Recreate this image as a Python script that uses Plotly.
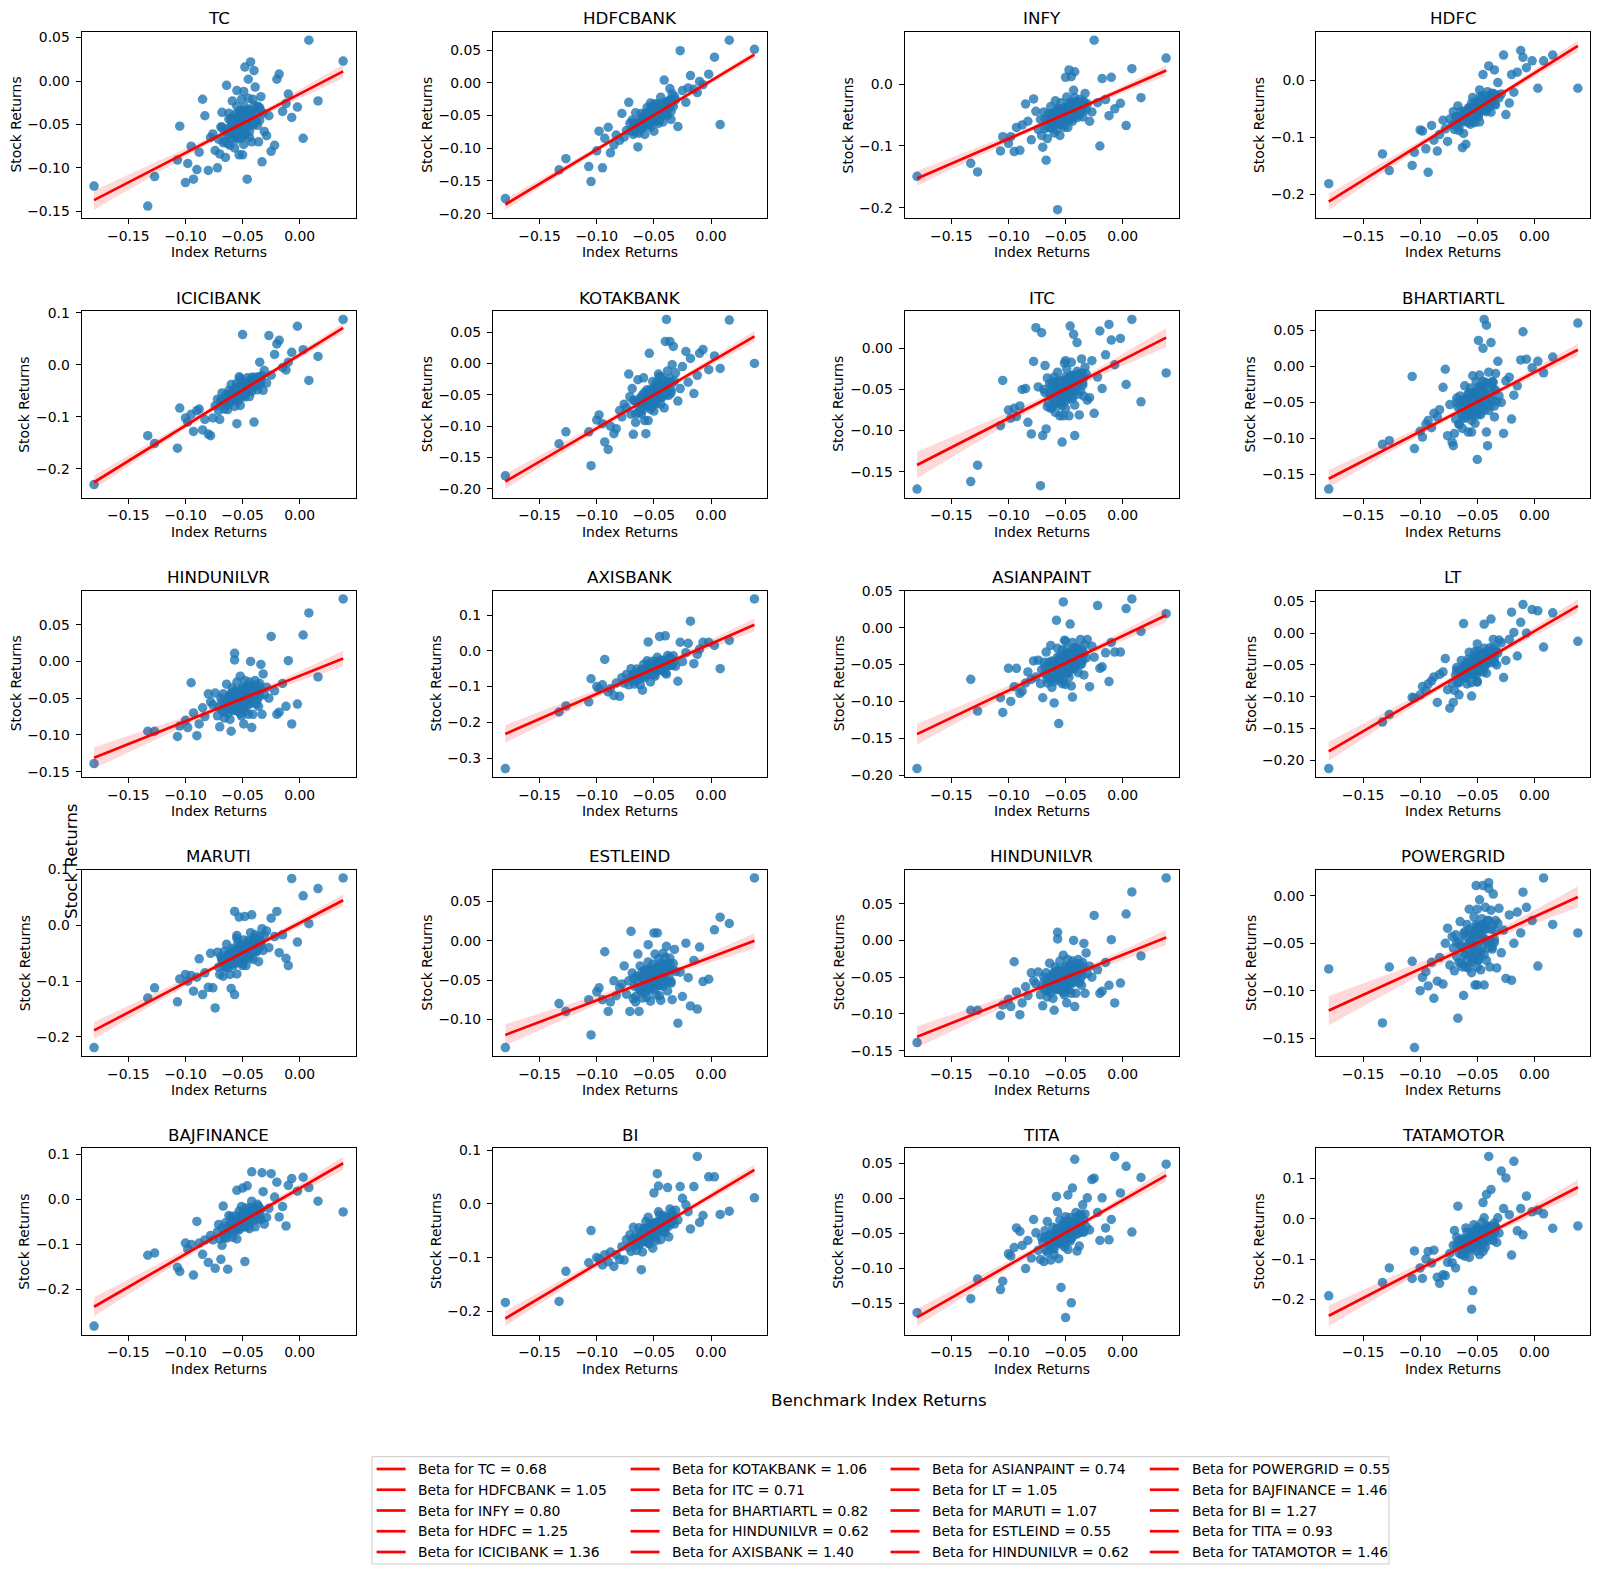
import numpy as np
import plotly.graph_objects as go

# ---------------- data ----------------
index_returns = [-0.180, -0.133, -0.127, -0.107, -0.105, -0.100, -0.098, -0.095, -0.093, -0.090, -0.088, -0.085, -0.083, -0.080, -0.078,
                 0.038, 0.016, 0.008, 0.003, -0.002, -0.007, -0.010, -0.012, -0.015, -0.018, -0.020, -0.022, -0.025, -0.027, -0.029,
                 -0.076, -0.074, -0.072, -0.071, -0.070, -0.069, -0.068, -0.067, -0.066, -0.065,
                 -0.064, -0.063, -0.062, -0.061, -0.060, -0.059, -0.058, -0.057, -0.057, -0.056,
                 -0.055, -0.055, -0.054, -0.053, -0.053, -0.052, -0.051, -0.051, -0.050, -0.050,
                 -0.049, -0.049, -0.048, -0.048, -0.047, -0.046, -0.046, -0.045, -0.044, -0.044,
                 -0.043, -0.042, -0.042, -0.041, -0.040, -0.039, -0.038, -0.037, -0.036, -0.035,
                 -0.034, -0.033, -0.032, -0.031, -0.060, -0.055, -0.050, -0.045, -0.040, -0.052,
                 -0.068, -0.066, -0.064, -0.063, -0.062, -0.061, -0.060, -0.059, -0.058, -0.057,
                 -0.056, -0.055, -0.054, -0.053, -0.053, -0.052, -0.051, -0.050, -0.050, -0.049,
                 -0.049, -0.048, -0.047, -0.047, -0.046, -0.045, -0.045, -0.044, -0.043, -0.042,
                 -0.041, -0.040, -0.039, -0.038, -0.037, -0.036, -0.035, -0.034, -0.055, -0.046]

tc = [-0.121, -0.144, -0.110, -0.091, -0.052, -0.117, -0.095, -0.075, -0.113, -0.102, -0.082, -0.021, -0.040, -0.103, -0.065,
      0.023, -0.023, 0.047, -0.066, -0.030, -0.042, -0.015, -0.026, -0.035, 0.008, 0.002, -0.074, -0.081, -0.040, -0.063,
      -0.061, -0.080, -0.100, -0.067, -0.084, -0.053, -0.036, -0.071, -0.058, -0.088,
      -0.005, -0.063, -0.037, -0.074, -0.052, -0.023, -0.062, -0.043, -0.077, -0.053,
      -0.029, -0.065, -0.044, -0.085, -0.035, -0.052, -0.021, -0.066, -0.036, -0.058,
      -0.012, -0.073, 0.016, -0.030, -0.061, -0.113, -0.037, 0.002, -0.048, -0.065,
      0.022, -0.038, -0.070, -0.021, 0.012, -0.007, -0.046, -0.029, -0.070, -0.031,
      -0.018, -0.093, -0.037, -0.058, -0.043, -0.011, -0.085, -0.020, -0.049, -0.034,
      -0.053, -0.069, -0.055, -0.072, -0.044, -0.061, -0.046, -0.066, -0.053, -0.039,
      -0.059, -0.047, -0.064, -0.040, -0.054, -0.044, -0.058, -0.034, -0.050, -0.039,
      -0.063, -0.044, -0.036, -0.056, -0.041, -0.050, -0.033, -0.058, -0.044, -0.035,
      -0.051, -0.028, -0.045, -0.034, -0.051, -0.030, -0.045, -0.035, -0.067, -0.035]

hdfcbank = [-0.177, -0.133, -0.116, -0.128, -0.151, -0.104, -0.074, -0.130, -0.085, -0.068, -0.107, -0.095, -0.080, -0.088, -0.047,
            0.051, 0.065, -0.064, 0.039, 0.013, -0.003, 0.002, -0.015, -0.010, 0.011, -0.008, -0.030, -0.012, 0.049, -0.067,
            -0.083, -0.073, -0.030, -0.062, -0.074, -0.057, -0.079, -0.065, -0.046, -0.069,
            -0.098, -0.077, -0.062, -0.047, -0.068, -0.054, -0.079, -0.047, -0.058, -0.038,
            -0.064, -0.047, -0.059, -0.031, -0.068, -0.049, -0.039, -0.059, -0.074, -0.044,
            -0.032, -0.051, -0.059, -0.039, -0.043, -0.062, -0.032, -0.051, -0.022, -0.046,
            -0.035, -0.060, -0.037, 0.004, -0.049, -0.038, -0.050, -0.028, -0.009, -0.056,
            -0.017, -0.036, -0.021, -0.026, -0.069, -0.045, -0.052, -0.057, -0.033, -0.036,
            -0.061, -0.076, -0.062, -0.068, -0.056, -0.069, -0.056, -0.061, -0.048, -0.062,
            -0.050, -0.055, -0.063, -0.044, -0.056, -0.048, -0.057, -0.042, -0.047, -0.058,
            -0.042, -0.049, -0.037, -0.052, -0.041, -0.047, -0.037, -0.052, -0.039, -0.046,
            -0.030, -0.038, -0.046, -0.030, -0.039, -0.026, -0.044, -0.031, -0.061, -0.040]

infy = [-0.149, -0.128, -0.142, -0.108, -0.085, -0.096, -0.085, -0.109, -0.070, -0.107, -0.066, -0.032, -0.060, -0.090, -0.024,
        0.042, -0.022, 0.025, -0.067, -0.031, -0.040, 0.011, -0.051, -0.025, 0.009, -0.100, -0.030, 0.071, -0.045, -0.060,
        -0.044, -0.073, -0.057, -0.083, -0.102, -0.045, -0.072, -0.123, -0.088, -0.048,
        -0.061, -0.036, -0.070, -0.047, -0.063, -0.027, -0.074, -0.203, -0.040, -0.064,
        -0.083, -0.045, -0.030, -0.053, -0.066, -0.039, -0.045, -0.070, 0.011, -0.057,
        -0.021, -0.052, -0.038, -0.070, 0.023, -0.030, -0.058, 0.012, -0.060, -0.034,
        -0.010, 0.020, -0.022, -0.047, -0.028, -0.035, -0.050, -0.025, -0.040, -0.053,
        -0.028, -0.015, -0.042, -0.032, -0.079, -0.041, -0.052, -0.029, -0.054, -0.047,
        -0.056, -0.069, -0.057, -0.071, -0.048, -0.061, -0.049, -0.065, -0.054, -0.042,
        -0.058, -0.049, -0.062, -0.042, -0.053, -0.045, -0.056, -0.037, -0.050, -0.040,
        -0.059, -0.044, -0.037, -0.054, -0.041, -0.048, -0.034, -0.054, -0.043, -0.036,
        -0.048, -0.029, -0.042, -0.034, -0.047, -0.029, -0.042, -0.033, -0.064, -0.036]

hdfc = [-0.181, -0.129, -0.158, -0.149, -0.126, -0.087, -0.089, -0.120, -0.161, -0.079, -0.105, -0.124, -0.095, -0.070, -0.085,
        -0.014, 0.044, 0.034, -0.014, 0.034, 0.022, 0.040, 0.052, 0.014, -0.021, 0.010, -0.040, -0.060, 0.044, -0.024,
        -0.107, -0.068, -0.078, -0.055, -0.086, -0.064, -0.079, -0.045, -0.088, -0.066,
        -0.054, -0.118, -0.093, -0.057, -0.112, -0.063, -0.074, -0.048, -0.054, -0.077,
        -0.040, -0.064, -0.030, -0.057, -0.046, -0.074, -0.046, -0.037, -0.061, -0.050,
        -0.064, -0.039, -0.017, -0.073, -0.028, -0.050, -0.033, 0.010, -0.053, -0.031,
        -0.044, -0.055, -0.033, -0.020, 0.025, -0.035, -0.056, -0.023, -0.036, 0.018,
        -0.043, -0.026, -0.004, -0.031, -0.054, -0.073, -0.050, -0.027, -0.046, -0.047,
        -0.064, -0.081, -0.065, -0.071, -0.058, -0.072, -0.058, -0.064, -0.049, -0.065,
        -0.052, -0.056, -0.065, -0.044, -0.057, -0.049, -0.059, -0.042, -0.048, -0.060,
        -0.042, -0.049, -0.036, -0.052, -0.040, -0.046, -0.035, -0.052, -0.038, -0.045,
        -0.028, -0.036, -0.045, -0.028, -0.037, -0.023, -0.042, -0.028, -0.064, -0.039]

icicibank = [-0.230, -0.136, -0.151, -0.160, -0.083, -0.102, -0.110, -0.095, -0.128, -0.088, -0.085, -0.125, -0.105, -0.133, -0.136,
             0.087, 0.016, -0.030, 0.029, 0.074, 0.024, 0.005, -0.010, -0.005, 0.047, 0.040, 0.020, -0.020, 0.056, -0.035,
             -0.102, -0.079, -0.066, -0.088, -0.105, -0.068, -0.054, -0.074, -0.085, -0.059,
             -0.064, -0.086, -0.049, -0.072, -0.038, -0.065, -0.052, -0.080, -0.053, -0.043,
             -0.067, -0.113, -0.070, -0.044, -0.023, -0.078, -0.032, -0.055, 0.058, -0.045,
             -0.058, -0.036, -0.049, -0.062, -0.038, -0.025, -0.051, -0.041, -0.061, -0.030,
             -0.043, -0.024, -0.051, -0.034, -0.110, -0.039, -0.025, -0.048, -0.030, 0.005,
             -0.036, -0.021, -0.049, -0.011, -0.064, -0.035, -0.060, -0.033, -0.042, -0.026,
             -0.067, -0.078, -0.065, -0.077, -0.056, -0.067, -0.055, -0.069, -0.058, -0.048,
             -0.062, -0.052, -0.064, -0.044, -0.055, -0.047, -0.056, -0.038, -0.050, -0.040,
             -0.058, -0.044, -0.036, -0.052, -0.040, -0.046, -0.032, -0.050, -0.039, -0.032,
             -0.043, -0.024, -0.036, -0.028, -0.040, -0.023, -0.033, -0.025, -0.066, -0.035]

kotakbank = [-0.179, -0.128, -0.109, -0.109, -0.163, -0.090, -0.082, -0.096, -0.125, -0.137, -0.100, -0.112, -0.104, -0.075, -0.085,
             0.000, 0.069, -0.008, 0.012, -0.010, 0.022, 0.016, -0.019, -0.048, 0.008, -0.030, 0.019, -0.005, -0.040, -0.060,
             -0.065, -0.071, -0.017, -0.053, -0.081, -0.040, -0.113, -0.059, -0.094, -0.060,
             -0.026, -0.078, -0.063, -0.081, -0.050, -0.023, -0.091, -0.112, -0.064, -0.042,
             -0.051, -0.068, 0.016, -0.057, -0.073, -0.044, -0.029, -0.061, -0.049, -0.076,
             -0.037, -0.054, -0.031, -0.064, -0.044, -0.017, -0.053, -0.036, -0.065, -0.044,
             -0.022, -0.053, -0.036, -0.071, 0.035, 0.070, -0.012, -0.051, 0.035, -0.043,
             -0.002, 0.027, -0.028, -0.015, -0.074, -0.091, -0.042, -0.021, -0.043, -0.070,
             -0.059, -0.080, -0.062, -0.070, -0.055, -0.072, -0.055, -0.063, -0.046, -0.065,
             -0.050, -0.056, -0.066, -0.042, -0.058, -0.048, -0.060, -0.041, -0.048, -0.062,
             -0.041, -0.050, -0.035, -0.054, -0.041, -0.048, -0.035, -0.055, -0.039, -0.048,
             -0.028, -0.038, -0.049, -0.029, -0.041, -0.024, -0.047, -0.031, -0.064, -0.039]

itc = [-0.171, -0.162, -0.142, -0.094, -0.039, -0.075, -0.085, -0.073, -0.083, -0.070, -0.050, -0.049, -0.090, -0.104, -0.016,
       -0.030, -0.065, 0.035, -0.044, 0.012, -0.020, 0.010, 0.029, -0.008, -0.049, 0.021, -0.035, -0.079, -0.015, -0.060,
       0.025, -0.047, -0.167, 0.019, -0.106, -0.050, -0.021, -0.098, -0.036, -0.067,
       -0.043, -0.053, -0.072, -0.041, -0.060, -0.078, -0.046, -0.029, -0.065, -0.052,
       -0.082, -0.039, -0.058, -0.114, -0.070, -0.047, -0.018, -0.057, -0.039, -0.073,
       -0.049, -0.025, -0.061, -0.041, -0.082, 0.027, -0.049, -0.017, -0.061, -0.033,
       0.017, -0.106, -0.069, -0.040, 0.007, -0.056, -0.081, -0.031, -0.013, -0.042,
       -0.058, -0.023, -0.031, -0.063, -0.035, -0.064, -0.015, -0.051, -0.032, -0.082,
       -0.054, -0.071, -0.056, -0.073, -0.045, -0.062, -0.047, -0.067, -0.054, -0.040,
       -0.060, -0.048, -0.065, -0.040, -0.055, -0.045, -0.058, -0.035, -0.051, -0.039,
       -0.063, -0.045, -0.036, -0.057, -0.042, -0.051, -0.033, -0.058, -0.045, -0.036,
       -0.051, -0.028, -0.045, -0.035, -0.052, -0.030, -0.045, -0.035, -0.068, -0.036]

bhartiartl = [-0.170, -0.108, -0.103, -0.014, -0.114, -0.090, -0.098, -0.080, -0.075, -0.085, -0.065, -0.070, -0.060, -0.029, -0.004,
              0.060, 0.013, -0.009, 0.007, -0.002, 0.010, 0.048, 0.009, -0.027, -0.040, -0.073, -0.015, -0.020, -0.093, -0.050,
              -0.096, -0.053, -0.105, -0.110, -0.093, -0.073, -0.044, -0.056, -0.080, -0.041,
              -0.065, -0.086, -0.048, -0.027, -0.070, -0.054, -0.091, -0.037, -0.061, -0.030,
              -0.075, -0.049, -0.013, -0.060, -0.038, -0.079, -0.050, -0.021, -0.129, -0.040,
              0.036, -0.029, -0.050, -0.012, -0.067, -0.031, -0.057, 0.025, 0.065, -0.040,
              -0.022, 0.057, -0.091, -0.110, -0.008, -0.045, 0.033, -0.021, -0.031, -0.070,
              -0.010, -0.049, 0.007, -0.041, -0.044, -0.091, -0.040, -0.021, -0.061, -0.051,
              -0.050, -0.080, -0.057, -0.068, -0.047, -0.072, -0.049, -0.061, -0.038, -0.065,
              -0.044, -0.053, -0.069, -0.036, -0.058, -0.045, -0.062, -0.035, -0.045, -0.067,
              -0.037, -0.050, -0.029, -0.057, -0.038, -0.049, -0.031, -0.061, -0.038, -0.051,
              -0.024, -0.039, -0.055, -0.028, -0.045, -0.022, -0.055, -0.033, -0.065, -0.036]

hindunilvr = [-0.139, -0.095, -0.095, -0.102, -0.088, -0.080, -0.090, -0.029, -0.070, -0.101, -0.085, -0.063, -0.075, -0.044, -0.055,
              0.085, -0.021, 0.066, 0.036, -0.058, -0.085, 0.001, -0.061, -0.030, -0.069, -0.072, -0.040, 0.034, -0.050, -0.035,
              -0.059, -0.043, -0.074, -0.062, -0.089, -0.050, -0.067, -0.044, -0.077, -0.057,
              -0.031, -0.065, -0.049, -0.079, -0.095, -0.036, -0.067, 0.002, 0.011, -0.040,
              -0.056, -0.028, -0.068, -0.042, -0.061, -0.020, -0.074, -0.048, -0.035, -0.064,
              -0.085, -0.042, -0.026, -0.053, -0.067, -0.036, -0.044, -0.072, -0.028, -0.057,
              0.000, -0.090, -0.036, -0.072, -0.038, -0.026, -0.058, -0.043, -0.061, -0.030,
              -0.004, -0.072, -0.017, -0.045, -0.043, -0.049, -0.064, -0.033, -0.048, -0.071,
              -0.055, -0.069, -0.057, -0.071, -0.047, -0.062, -0.048, -0.066, -0.054, -0.042,
              -0.060, -0.050, -0.064, -0.043, -0.055, -0.046, -0.058, -0.038, -0.052, -0.042,
              -0.063, -0.047, -0.039, -0.057, -0.044, -0.052, -0.036, -0.058, -0.046, -0.039,
              -0.052, -0.032, -0.047, -0.038, -0.052, -0.034, -0.047, -0.038, -0.066, -0.038]

axisbank = [-0.329, -0.171, -0.154, -0.143, -0.078, -0.100, -0.106, -0.095, -0.024, -0.115, -0.106, -0.125, -0.090, -0.127, -0.075,
            0.145, 0.029, -0.050, 0.015, 0.024, 0.024, 0.005, -0.010, -0.036, 0.083, 0.021, -0.005, -0.030, 0.024, -0.085,
            -0.090, -0.066, -0.095, -0.076, -0.050, -0.082, -0.066, -0.093, -0.072, -0.051,
            -0.080, -0.062, -0.095, -0.052, -0.110, -0.038, -0.075, -0.049, -0.067, -0.028,
            0.025, -0.054, -0.041, -0.066, -0.087, -0.046, -0.029, -0.055, -0.067, -0.038,
            -0.044, -0.071, -0.030, -0.057, -0.018, -0.049, -0.036, 0.040, -0.036, -0.026,
            -0.054, -0.039, -0.057, -0.028, 0.042, -0.065, -0.013, -0.039, -0.018, -0.025,
            -0.041, -0.014, -0.029, -0.043, -0.056, -0.036, -0.059, -0.042, -0.061, -0.041,
            -0.066, -0.084, -0.067, -0.074, -0.059, -0.075, -0.059, -0.065, -0.050, -0.067,
            -0.052, -0.057, -0.066, -0.044, -0.058, -0.049, -0.059, -0.041, -0.048, -0.061,
            -0.041, -0.049, -0.034, -0.053, -0.039, -0.046, -0.034, -0.052, -0.037, -0.044,
            -0.026, -0.035, -0.044, -0.026, -0.036, -0.020, -0.041, -0.025, -0.065, -0.038]

asianpaint = [-0.191, -0.070, -0.113, -0.095, -0.115, -0.055, -0.100, -0.080, -0.055, -0.089, -0.086, -0.075, -0.060, -0.070, -0.045,
              0.019, -0.005, 0.039, 0.026, -0.033, -0.033, -0.020, -0.073, -0.034, -0.053, -0.055, 0.030, -0.040, -0.025, -0.080,
              -0.067, -0.044, -0.076, -0.057, -0.095, -0.047, -0.063, -0.033, -0.075, -0.047,
              -0.067, -0.024, -0.081, -0.053, -0.102, -0.069, 0.010, -0.045, -0.028, -0.130,
              -0.071, -0.039, -0.046, -0.076, -0.030, 0.035, -0.017, -0.054, -0.038, -0.077,
              -0.041, -0.029, -0.062, -0.047, -0.067, -0.034, 0.005, -0.079, -0.020, -0.094,
              -0.028, -0.038, -0.056, -0.027, -0.045, -0.061, -0.032, -0.016, -0.049, -0.036,
              -0.064, -0.023, -0.041, -0.016, -0.073, -0.049, -0.018, -0.052, -0.031, -0.072,
              -0.054, -0.069, -0.055, -0.071, -0.045, -0.061, -0.046, -0.065, -0.052, -0.040,
              -0.059, -0.047, -0.063, -0.040, -0.053, -0.044, -0.056, -0.035, -0.050, -0.039,
              -0.061, -0.044, -0.036, -0.055, -0.041, -0.049, -0.033, -0.056, -0.043, -0.035,
              -0.049, -0.028, -0.043, -0.034, -0.050, -0.029, -0.044, -0.034, -0.065, -0.035]

lt = [-0.213, -0.140, -0.128, -0.101, -0.102, -0.097, -0.084, -0.090, -0.080, -0.075, -0.069, -0.109, -0.065, -0.061, -0.040,
      -0.013, 0.032, -0.022, 0.035, 0.037, 0.000, 0.045, 0.017, -0.036, 0.001, 0.033, -0.010, -0.043, -0.070, -0.015,
      -0.089, -0.118, -0.079, -0.109, -0.090, -0.066, -0.054, -0.078, -0.097, -0.058,
      -0.043, -0.066, 0.015, -0.050, -0.056, -0.080, -0.041, -0.065, -0.030, -0.060,
      -0.099, -0.078, -0.048, -0.037, -0.065, -0.051, -0.067, -0.041, -0.017, -0.077,
      -0.029, -0.054, -0.035, -0.043, -0.057, -0.033, -0.048, -0.061, 0.014, -0.024,
      -0.050, -0.040, -0.063, -0.029, -0.043, -0.023, 0.022, -0.033, -0.010, -0.039,
      -0.024, -0.050, -0.031, -0.011, -0.070, -0.049, -0.076, -0.032, -0.040, -0.029,
      -0.059, -0.078, -0.062, -0.068, -0.054, -0.070, -0.055, -0.062, -0.046, -0.063,
      -0.049, -0.055, -0.064, -0.042, -0.057, -0.048, -0.058, -0.040, -0.047, -0.060,
      -0.041, -0.049, -0.035, -0.053, -0.040, -0.047, -0.035, -0.054, -0.038, -0.046,
      -0.028, -0.038, -0.047, -0.029, -0.040, -0.024, -0.046, -0.030, -0.063, -0.039]

maruti = [-0.219, -0.130, -0.112, -0.137, -0.096, -0.088, -0.100, -0.090, -0.118, -0.093, -0.060, -0.124, -0.085, -0.111, -0.050,
          0.085, 0.066, 0.003, 0.053, -0.030, 0.084, -0.072, -0.059, -0.017, -0.049, 0.025, -0.020, 0.013, -0.040, -0.010,
          -0.112, -0.148, -0.048, -0.075, -0.088, -0.056, -0.063, -0.091, -0.047, -0.075,
          -0.034, -0.068, -0.052, -0.088, -0.113, -0.041, -0.072, 0.025, -0.124, -0.044,
          -0.018, -0.087, -0.031, 0.015, -0.038, -0.047, -0.063, -0.036, -0.053, -0.069,
          -0.040, -0.026, -0.057, 0.016, -0.072, -0.032, -0.050, -0.027, -0.059, -0.040,
          -0.013, 0.019, -0.031, -0.061, -0.039, -0.017, -0.048, -0.029, -0.065, -0.019,
          -0.034, -0.006, -0.045, -0.018, -0.068, -0.023, -0.072, -0.041, -0.023, -0.064,
          -0.061, -0.074, -0.061, -0.076, -0.051, -0.065, -0.051, -0.069, -0.056, -0.044,
          -0.061, -0.050, -0.065, -0.043, -0.055, -0.046, -0.057, -0.037, -0.051, -0.040,
          -0.061, -0.044, -0.036, -0.055, -0.041, -0.048, -0.033, -0.054, -0.042, -0.034,
          -0.047, -0.026, -0.041, -0.031, -0.045, -0.026, -0.039, -0.030, -0.067, -0.035]

estleind = [-0.136, -0.080, -0.090, -0.075, -0.120, -0.065, -0.060, -0.075, -0.014, -0.090, -0.078, -0.051, -0.070, -0.060, -0.055,
            0.080, 0.022, 0.030, 0.014, -0.049, -0.052, -0.008, -0.087, -0.025, -0.083, -0.047, -0.003, -0.071, -0.040, -0.105,
            -0.032, -0.068, -0.051, -0.090, 0.012, -0.041, -0.074, -0.058, -0.078, -0.045,
            -0.017, -0.090, -0.032, -0.062, -0.039, -0.048, -0.066, -0.037, -0.056, -0.072,
            -0.005, -0.027, -0.061, -0.048, -0.077, -0.036, -0.054, -0.030, 0.010, -0.044,
            -0.017, -0.054, -0.036, -0.069, 0.010, -0.023, -0.057, -0.038, -0.076, -0.029,
            -0.045, -0.016, -0.058, -0.030, -0.050, -0.007, -0.064, -0.036, -0.022, -0.052,
            -0.075, -0.029, -0.011, -0.039, -0.073, -0.037, -0.043, -0.070, -0.021, -0.059,
            -0.048, -0.071, -0.053, -0.062, -0.046, -0.065, -0.048, -0.056, -0.039, -0.060,
            -0.044, -0.051, -0.063, -0.038, -0.055, -0.045, -0.058, -0.038, -0.045, -0.061,
            -0.039, -0.049, -0.033, -0.054, -0.040, -0.049, -0.035, -0.057, -0.040, -0.050,
            -0.030, -0.041, -0.053, -0.033, -0.046, -0.029, -0.054, -0.037, -0.060, -0.039]

powergrid = [-0.077, -0.134, -0.075, -0.069, -0.160, -0.100, -0.086, -0.080, -0.095, -0.070, -0.108, -0.090, -0.065, -0.093, -0.050,
             -0.039, -0.030, 0.019, -0.074, -0.026, -0.012, 0.004, -0.039, -0.017, -0.050, -0.089, -0.020, -0.087, -0.036, -0.060,
             -0.034, -0.073, -0.043, -0.055, -0.079, -0.041, -0.064, -0.129, -0.048, -0.027,
             -0.071, -0.055, -0.105, -0.038, -0.062, -0.030, -0.076, -0.049, -0.014, -0.061,
             -0.039, -0.081, -0.051, -0.022, -0.066, -0.041, 0.011, -0.030, -0.094, -0.014,
             -0.068, -0.033, -0.059, -0.004, -0.078, -0.042, -0.024, 0.011, -0.094, -0.034,
             -0.012, -0.048, -0.068, -0.026, 0.014, -0.075, -0.015, -0.054, 0.002, -0.046,
             -0.026, -0.076, -0.029, -0.013, -0.075, -0.052, -0.075, -0.030, 0.008, -0.094,
             -0.049, -0.070, -0.053, -0.075, -0.040, -0.062, -0.043, -0.068, -0.052, -0.035,
             -0.061, -0.046, -0.068, -0.037, -0.055, -0.043, -0.060, -0.032, -0.052, -0.037,
             -0.067, -0.044, -0.034, -0.060, -0.041, -0.053, -0.031, -0.062, -0.046, -0.035,
             -0.055, -0.026, -0.047, -0.035, -0.056, -0.030, -0.049, -0.037, -0.070, -0.033]

bajfinance = [-0.281, -0.124, -0.119, -0.151, -0.160, -0.097, -0.110, -0.100, -0.168, -0.049, -0.097, -0.122, -0.090, -0.140, -0.080,
              -0.028, -0.004, 0.026, 0.049, 0.018, 0.046, 0.031, -0.059, -0.016, -0.039, 0.038, 0.005, 0.057, -0.020, -0.040,
              -0.090, -0.153, -0.072, -0.056, -0.088, -0.133, -0.102, -0.015, -0.077, -0.052,
              -0.086, -0.155, -0.036, -0.071, -0.053, -0.084, -0.060, -0.037, -0.071, -0.050,
              -0.088, 0.020, -0.056, -0.026, -0.068, -0.040, -0.058, -0.016, 0.025, -0.045,
              -0.030, -0.061, -0.138, -0.037, -0.019, 0.030, -0.061, -0.028, -0.035, -0.065,
              -0.018, 0.061, -0.004, -0.040, -0.024, -0.061, -0.024, -0.011, -0.043, -0.027,
              -0.045, 0.059, 0.017, -0.055, -0.039, -0.063, -0.033, -0.036, -0.047, -0.036,
              -0.064, -0.085, -0.066, -0.074, -0.057, -0.075, -0.057, -0.065, -0.047, -0.066,
              -0.050, -0.056, -0.066, -0.041, -0.057, -0.047, -0.059, -0.038, -0.046, -0.061,
              -0.038, -0.047, -0.031, -0.052, -0.037, -0.044, -0.031, -0.052, -0.034, -0.043,
              -0.022, -0.032, -0.043, -0.022, -0.034, -0.016, -0.040, -0.022, -0.065, -0.035]

bi = [-0.184, -0.182, -0.126, -0.110, -0.050, -0.100, -0.103, -0.114, -0.095, -0.108, -0.090, -0.117, -0.095, -0.104, -0.080,
      0.011, -0.014, -0.020, 0.050, 0.050, -0.022, -0.035, 0.088, 0.032, -0.047, -0.015, -0.002, 0.010, 0.032, -0.030,
      -0.105, -0.067, -0.081, -0.058, -0.089, -0.069, -0.044, -0.076, -0.060, -0.087,
      -0.066, -0.045, -0.074, -0.123, -0.090, -0.046, -0.060, -0.033, -0.071, -0.046,
      -0.062, -0.025, -0.075, -0.049, -0.037, -0.063, -0.083, -0.042, 0.020, -0.052,
      -0.064, -0.035, -0.042, -0.069, 0.056, 0.033, -0.015, -0.047, -0.032, -0.067,
      -0.034, -0.022, -0.052, -0.037, -0.054, -0.025, 0.030, -0.062, -0.010, -0.036,
      -0.015, -0.023, -0.038, -0.012, -0.064, -0.073, -0.041, -0.021, -0.045, -0.050,
      -0.065, -0.077, -0.064, -0.077, -0.053, -0.067, -0.054, -0.069, -0.058, -0.046,
      -0.062, -0.051, -0.064, -0.044, -0.055, -0.046, -0.057, -0.037, -0.050, -0.040,
      -0.059, -0.044, -0.036, -0.053, -0.040, -0.047, -0.032, -0.052, -0.040, -0.032,
      -0.044, -0.025, -0.038, -0.029, -0.042, -0.024, -0.035, -0.026, -0.067, -0.035]

tita = [-0.163, -0.143, -0.115, -0.130, -0.118, -0.079, -0.082, -0.070, -0.042, -0.047, -0.067, -0.100, -0.060, -0.085, -0.030,
        0.049, 0.030, -0.048, 0.046, 0.008, 0.060, -0.030, -0.059, -0.042, 0.001, -0.060, -0.020, 0.029, 0.027, -0.045,
        -0.049, -0.074, -0.087, -0.056, -0.063, -0.090, -0.046, -0.074, -0.033, -0.068,
        -0.052, -0.088, -0.054, -0.041, -0.072, -0.057, 0.003, -0.044, -0.019, -0.086,
        -0.031, -0.060, -0.127, -0.047, -0.064, -0.036, -0.053, -0.069, -0.170, -0.026,
        -0.057, -0.046, -0.073, 0.005, -0.051, -0.027, -0.061, -0.149, 0.015, -0.050,
        -0.033, 0.056, -0.041, -0.020, -0.051, -0.032, -0.068, -0.022, -0.037, -0.009,
        -0.048, -0.022, -0.040, 0.001, -0.080, -0.050, -0.033, -0.057, -0.075, -0.043,
        -0.055, -0.077, -0.059, -0.067, -0.051, -0.070, -0.052, -0.060, -0.043, -0.063,
        -0.047, -0.054, -0.065, -0.040, -0.056, -0.046, -0.059, -0.038, -0.046, -0.061,
        -0.039, -0.049, -0.033, -0.054, -0.039, -0.047, -0.034, -0.055, -0.038, -0.047,
        -0.027, -0.038, -0.049, -0.029, -0.041, -0.024, -0.048, -0.031, -0.063, -0.038]

tatamotor = [-0.191, -0.158, -0.122, -0.148, -0.080, -0.122, -0.148, -0.100, -0.081, -0.110, -0.078, -0.145, -0.160, -0.139, -0.141,
             -0.018, -0.024, 0.012, 0.021, 0.017, 0.056, -0.040, 0.025, -0.030, 0.142, -0.090, 0.010, 0.101, 0.025, 0.118,
             -0.108, -0.086, -0.109, -0.066, -0.029, -0.122, -0.046, 0.031, -0.054, -0.066,
             -0.089, -0.050, -0.072, -0.093, -0.054, -0.033, -0.075, -0.059, -0.096, -0.042,
             -0.224, -0.034, -0.178, -0.050, -0.015, -0.062, -0.039, -0.080, -0.050, -0.022,
             -0.064, -0.040, -0.089, -0.028, -0.048, -0.009, -0.064, 0.040, -0.053, 0.002,
             -0.071, 0.060, -0.017, -0.055, 0.154, -0.023, 0.072, -0.036, -0.054, -0.011,
             -0.020, -0.059, 0.002, -0.036, -0.023, -0.064, -0.037, -0.081, -0.027, -0.029,
             -0.067, -0.085, -0.067, -0.087, -0.053, -0.072, -0.054, -0.077, -0.060, -0.044,
             -0.067, -0.052, -0.072, -0.042, -0.059, -0.046, -0.061, -0.033, -0.052, -0.038,
             -0.066, -0.044, -0.033, -0.058, -0.039, -0.049, -0.028, -0.057, -0.040, -0.029,
             -0.047, -0.019, -0.038, -0.025, -0.045, -0.019, -0.036, -0.023, -0.075, -0.031]

stock_names = ["TC", "HDFCBANK", "INFY", "HDFC", "ICICIBANK", "KOTAKBANK", "ITC", "BHARTIARTL",
               "HINDUNILVR", "AXISBANK", "ASIANPAINT", "LT", "MARUTI", "ESTLEIND", "HINDUNILVR", "POWERGRID",
               "BAJFINANCE", "BI", "TITA", "TATAMOTOR"]
stock_series = [tc, hdfcbank, infy, hdfc, icicibank, kotakbank, itc, bhartiartl,
                hindunilvr, axisbank, asianpaint, lt, maruti, estleind, hindunilvr, powergrid,
                bajfinance, bi, tita, tatamotor]
betas = [0.68, 1.05, 0.80, 1.25, 1.36, 1.06, 0.71, 0.82, 0.62, 1.40,
         0.74, 1.05, 1.07, 0.55, 0.62, 0.55, 1.46, 1.27, 0.93, 1.46]
intercepts = [-0.0148, 0.0030, -0.0084, 0.0125, 0.0193, 0.0027, -0.0140, -0.0082, -0.0196, 0.0198,
              -0.0111, 0.0030, 0.0043, -0.0209, -0.0196, -0.0220, 0.0245, 0.0147, -0.0023, 0.0225]
ci_halfwidth_left = [0.011, 0.008, 0.012, 0.014, 0.013, 0.012, 0.016, 0.012, 0.0145, 0.025,
                     0.014, 0.015, 0.015, 0.0135, 0.0145, 0.0155, 0.021, 0.014, 0.0124, 0.0255]
ytick_steps = [0.05, 0.05, 0.1, 0.1, 0.1, 0.05, 0.05, 0.05, 0.05, 0.1,
               0.05, 0.05, 0.1, 0.05, 0.05, 0.05, 0.1, 0.1, 0.05, 0.1]
xtick_values = [-0.15, -0.10, -0.05, 0.00]

# ---------------- layout constants ----------------
W, H = 1600, 1574
FONT = "DejaVu Sans"
F10 = 13.9
F12 = 16.7
col_left = [81.6, 492.9, 904.6, 1316.3]
row_top = [31.7, 311.0, 590.5, 869.5, 1148.0]
ax_w, ax_h = 274.0, 186.5


def px(xp):
    return xp / W


def py(yp):
    return 1 - yp / H


def tick_label(v, dec):
    s = f"{abs(v):.{dec}f}"
    return ("\u2212" + s) if v < -1e-9 else s


def text_width(s, size):
    widths = {"\u2212": 0.838, ".": 0.318}
    return sum(widths.get(ch, 0.636) for ch in s) * size


xs = np.array(index_returns)
n = len(xs)
xm = xs.mean()
sxx = ((xs - xm) ** 2).sum()
xgrid = np.unique(xs)
x_lo, x_hi = xs.min(), xs.max()
xpad = 0.05 * (x_hi - x_lo)


def se_shape(x):
    return np.sqrt(1.0 / n + (x - xm) ** 2 / sxx)


fig = go.Figure()
annotations = []
shapes = []
layout_axes = {}

for i, (name, ys) in enumerate(zip(stock_names, stock_series)):
    r, c = divmod(i, 4)
    k = "" if i == 0 else str(i + 1)
    xa, ya = "x" + k, "y" + k
    ys = np.array(ys)
    b, a = betas[i], intercepts[i]
    hw = ci_halfwidth_left[i] * se_shape(xgrid) / se_shape(x_lo)
    fit = a + b * xgrid
    upper, lower = fit + hw, fit - hw

    fig.add_trace(go.Scatter(x=xs, y=ys, mode="markers", xaxis=xa, yaxis=ya,
                             marker=dict(color="#1f77b4", size=9.5, opacity=0.8, line=dict(width=0)),
                             showlegend=False, hoverinfo="x+y"))
    fig.add_trace(go.Scatter(x=np.concatenate([xgrid, xgrid[::-1]]),
                             y=np.concatenate([upper, lower[::-1]]),
                             fill="toself", fillcolor="rgba(255,0,0,0.15)", line=dict(width=0),
                             mode="lines", xaxis=xa, yaxis=ya, showlegend=False, hoverinfo="skip"))
    fig.add_trace(go.Scatter(x=[x_lo, x_hi], y=[a + b * x_lo, a + b * x_hi], mode="lines",
                             line=dict(color="red", width=2.7), xaxis=xa, yaxis=ya,
                             name=f"Beta for {name} = {b:.2f}", showlegend=False))

    lo = min(ys.min(), lower.min())
    hi = max(ys.max(), upper.max())
    pad = 0.05 * (hi - lo)
    ylo, yhi = lo - pad, hi + pad
    step = ytick_steps[i]
    dec = 2 if step < 0.09 else 1
    kk = np.arange(np.ceil(ylo / step - 1e-9), np.floor(yhi / step + 1e-9) + 1)
    yt = [round(v * step, 4) for v in kk]
    ytxt = [tick_label(v, dec) for v in yt]

    left, top = col_left[c], row_top[r]
    axis_common = dict(showline=True, mirror=True, linecolor="black", linewidth=1.1,
                       ticks="outside", ticklen=5, tickwidth=1.1, tickcolor="black",
                       showgrid=False, zeroline=False, automargin=False,
                       tickfont=dict(family=FONT, size=F10, color="black"))
    layout_axes["xaxis" + k] = dict(domain=[px(left), px(left + ax_w)], anchor=ya,
                                    range=[x_lo - xpad, x_hi + xpad], tickvals=xtick_values,
                                    ticktext=[tick_label(v, 2) for v in xtick_values],
                                    ticklabelstandoff=0, **axis_common)
    layout_axes["yaxis" + k] = dict(domain=[py(top + ax_h), py(top)], anchor=xa,
                                    range=[ylo, yhi], tickvals=yt, ticktext=ytxt,
                                    ticklabelstandoff=3, **axis_common)

    annotations.append(dict(text=name, x=px(left + ax_w / 2), y=py(top - 13.5), xref="paper", yref="paper",
                            xanchor="center", yanchor="middle", showarrow=False,
                            font=dict(family=FONT, size=F12, color="black")))
    annotations.append(dict(text="Index Returns", x=px(left + ax_w / 2), y=py(top + ax_h + 34),
                            xref="paper", yref="paper", xanchor="center", yanchor="middle",
                            showarrow=False, font=dict(family=FONT, size=F10, color="black")))
    visible = [t for v, t in zip(yt, ytxt) if ylo <= v <= yhi]
    wmax = max(text_width(t, F10) for t in visible)
    lab_x = left - (9.8 + wmax + 5.6 + 8.0)
    annotations.append(dict(text="Stock Returns", x=px(lab_x), y=py(top + ax_h / 2),
                            xref="paper", yref="paper", xanchor="center", yanchor="middle",
                            textangle=-90, showarrow=False,
                            font=dict(family=FONT, size=F10, color="black")))

annotations.append(dict(text="Benchmark Index Returns", x=px(879), y=py(1400), xref="paper", yref="paper",
                        xanchor="center", yanchor="middle", showarrow=False,
                        font=dict(family=FONT, size=F12, color="black")))
annotations.append(dict(text="Stock Returns", x=px(71), y=py(861), xref="paper", yref="paper",
                        xanchor="center", yanchor="middle", textangle=-90, showarrow=False,
                        font=dict(family=FONT, size=F12, color="black")))

# legend: 4 columns x 5 rows, filled column by column as in the reference
leg_box = (372, 1456.7, 1389, 1564)
shapes.append(dict(type="rect", xref="paper", yref="paper",
                   x0=px(leg_box[0]), x1=px(leg_box[2]), y0=py(leg_box[3]), y1=py(leg_box[1]),
                   line=dict(color="#cccccc", width=1), fillcolor="white", layer="below"))
leg_col_x = [374.6, 628.6, 888.5, 1147.8]
leg_row0, leg_dy = 1469.0, 20.75
for i, (name, b) in enumerate(zip(stock_names, betas)):
    c, r = divmod(i, 5)
    yy = leg_row0 + r * leg_dy
    x0 = leg_col_x[c]
    shapes.append(dict(type="line", xref="paper", yref="paper",
                       x0=px(x0 + 2), x1=px(x0 + 31), y0=py(yy), y1=py(yy),
                       line=dict(color="red", width=2.7), layer="above"))
    annotations.append(dict(text=f"Beta for {name} = {b:.2f}", x=px(x0 + 41.8), y=py(yy),
                            xref="paper", yref="paper", xanchor="left", yanchor="middle",
                            showarrow=False, font=dict(family=FONT, size=F10, color="black")))

fig.update_layout(template="none", width=W, height=H,
                  margin=dict(l=0, r=0, t=0, b=0, autoexpand=False),
                  paper_bgcolor="white", plot_bgcolor="white", showlegend=False,
                  annotations=annotations, shapes=shapes, **layout_axes)

fig.write_html("out.html", config={"displayModeBar": False},
               post_script="document.body.style.margin='0px';")
